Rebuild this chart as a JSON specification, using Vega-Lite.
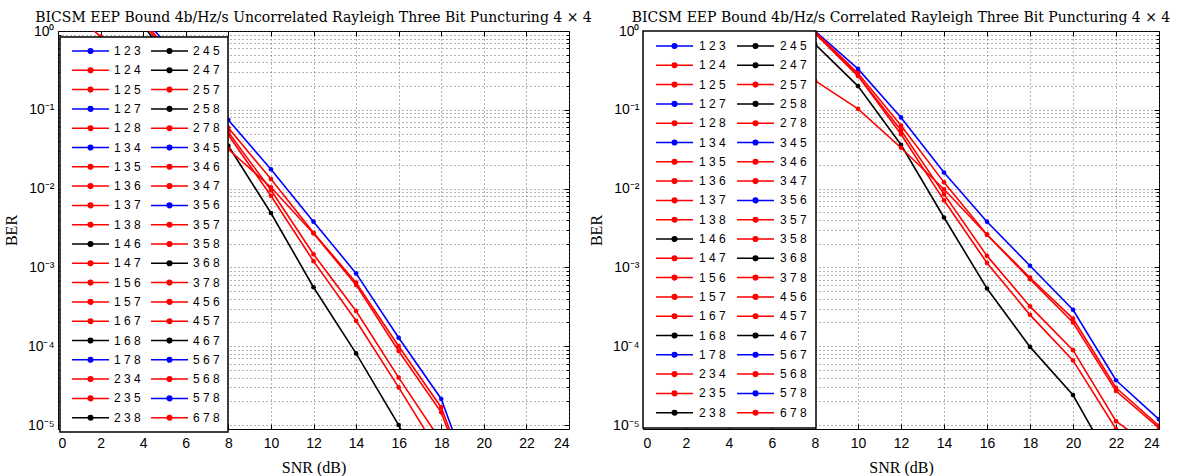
{
  "$schema": "https://vega.github.io/schema/vega-lite/v6.json",
  "background": "white",
  "padding": {"left": 2, "top": 10, "right": 10, "bottom": 2},
  "bounds": "flush",
  "spacing": 74,
  "config": {
    "view": {"stroke": "black", "strokeWidth": 1},
    "axis": {
      "labelFont": "Liberation Sans", "labelFontSize": 14, "labelColor": "black",
      "titleFont": "Liberation Serif", "titleFontSize": 16, "titleFontWeight": "normal", "titleColor": "black",
      "domain": false, "tickColor": "black", "labelOverlap": false, "labelBound": false,
      "gridColor": "#444", "gridDash": [1, 3], "gridWidth": 1, "gridOpacity": 0.8
    },
    "title": {"font": "DejaVu Serif", "fontSize": 14, "fontWeight": "normal", "color": "black", "anchor": "middle", "offset": -1},
    "legend": {"strokeWidth": 1.5}
  },
  "datasets": {
    "unc": [
      {"s": "1 2 3", "snr": 0, "ber": 20}, {"s": "1 2 3", "snr": 2, "ber": 6}, {"s": "1 2 3", "snr": 4, "ber": 1.5}, {"s": "1 2 3", "snr": 6, "ber": 0.35}, {"s": "1 2 3", "snr": 8, "ber": 0.074}, {"s": "1 2 3", "snr": 10, "ber": 0.0176}, {"s": "1 2 3", "snr": 12, "ber": 0.0038}, {"s": "1 2 3", "snr": 14, "ber": 0.00084}, {"s": "1 2 3", "snr": 16, "ber": 0.000128}, {"s": "1 2 3", "snr": 18, "ber": 0.0000214}, {"s": "1 2 3", "snr": 20, "ber": 0.0000007},
      {"s": "2 3 8", "snr": 0, "ber": 15}, {"s": "2 3 8", "snr": 2, "ber": 4}, {"s": "2 3 8", "snr": 4, "ber": 1.2}, {"s": "2 3 8", "snr": 6, "ber": 0.2}, {"s": "2 3 8", "snr": 8, "ber": 0.035}, {"s": "2 3 8", "snr": 10, "ber": 0.0049}, {"s": "2 3 8", "snr": 12, "ber": 0.00056}, {"s": "2 3 8", "snr": 14, "ber": 0.000081}, {"s": "2 3 8", "snr": 16, "ber": 0.00001}, {"s": "2 3 8", "snr": 18, "ber": 0.0000008},
      {"s": "1 3 5", "snr": 0, "ber": 18}, {"s": "1 3 5", "snr": 2, "ber": 5}, {"s": "1 3 5", "snr": 4, "ber": 1.4}, {"s": "1 3 5", "snr": 6, "ber": 0.28}, {"s": "1 3 5", "snr": 8, "ber": 0.059}, {"s": "1 3 5", "snr": 10, "ber": 0.0132}, {"s": "1 3 5", "snr": 12, "ber": 0.00275}, {"s": "1 3 5", "snr": 14, "ber": 0.00064}, {"s": "1 3 5", "snr": 16, "ber": 0.0001}, {"s": "1 3 5", "snr": 18, "ber": 0.0000167}, {"s": "1 3 5", "snr": 20, "ber": 0.0000006},
      {"s": "1 2 4", "snr": 0, "ber": 2.5}, {"s": "1 2 4", "snr": 2, "ber": 0.85}, {"s": "1 2 4", "snr": 4, "ber": 0.3}, {"s": "1 2 4", "snr": 6, "ber": 0.1}, {"s": "1 2 4", "snr": 8, "ber": 0.0316}, {"s": "1 2 4", "snr": 10, "ber": 0.0104}, {"s": "1 2 4", "snr": 12, "ber": 0.0027}, {"s": "1 2 4", "snr": 14, "ber": 0.0006}, {"s": "1 2 4", "snr": 16, "ber": 0.000087}, {"s": "1 2 4", "snr": 18, "ber": 0.0000145}, {"s": "1 2 4", "snr": 20, "ber": 0.0000005},
      {"s": "1 3 6", "snr": 0, "ber": 16}, {"s": "1 3 6", "snr": 2, "ber": 4.5}, {"s": "1 3 6", "snr": 4, "ber": 1.3}, {"s": "1 3 6", "snr": 6, "ber": 0.25}, {"s": "1 3 6", "snr": 8, "ber": 0.052}, {"s": "1 3 6", "snr": 10, "ber": 0.0096}, {"s": "1 3 6", "snr": 12, "ber": 0.00147}, {"s": "1 3 6", "snr": 14, "ber": 0.00028}, {"s": "1 3 6", "snr": 16, "ber": 0.00004}, {"s": "1 3 6", "snr": 18, "ber": 0.0000062}, {"s": "1 3 6", "snr": 20, "ber": 0.0000002},
      {"s": "1 3 7", "snr": 0, "ber": 16}, {"s": "1 3 7", "snr": 2, "ber": 4.5}, {"s": "1 3 7", "snr": 4, "ber": 1.3}, {"s": "1 3 7", "snr": 6, "ber": 0.24}, {"s": "1 3 7", "snr": 8, "ber": 0.048}, {"s": "1 3 7", "snr": 10, "ber": 0.0081}, {"s": "1 3 7", "snr": 12, "ber": 0.0012}, {"s": "1 3 7", "snr": 14, "ber": 0.00021}, {"s": "1 3 7", "snr": 16, "ber": 0.00003}, {"s": "1 3 7", "snr": 18, "ber": 0.000004}, {"s": "1 3 7", "snr": 20, "ber": 0.0000001}
    ],
    "cor": [
      {"s": "1 2 3", "snr": 0, "ber": 60}, {"s": "1 2 3", "snr": 2, "ber": 20}, {"s": "1 2 3", "snr": 4, "ber": 6}, {"s": "1 2 3", "snr": 6, "ber": 2.5}, {"s": "1 2 3", "snr": 8, "ber": 1.0}, {"s": "1 2 3", "snr": 10, "ber": 0.33}, {"s": "1 2 3", "snr": 12, "ber": 0.08}, {"s": "1 2 3", "snr": 14, "ber": 0.016}, {"s": "1 2 3", "snr": 16, "ber": 0.0038}, {"s": "1 2 3", "snr": 18, "ber": 0.00105}, {"s": "1 2 3", "snr": 20, "ber": 0.00029}, {"s": "1 2 3", "snr": 22, "ber": 0.000037}, {"s": "1 2 3", "snr": 24, "ber": 0.0000118},
      {"s": "2 3 8", "snr": 0, "ber": 30}, {"s": "2 3 8", "snr": 2, "ber": 10}, {"s": "2 3 8", "snr": 4, "ber": 4}, {"s": "2 3 8", "snr": 6, "ber": 1.8}, {"s": "2 3 8", "snr": 8, "ber": 0.68}, {"s": "2 3 8", "snr": 10, "ber": 0.2}, {"s": "2 3 8", "snr": 12, "ber": 0.036}, {"s": "2 3 8", "snr": 14, "ber": 0.0043}, {"s": "2 3 8", "snr": 16, "ber": 0.00054}, {"s": "2 3 8", "snr": 18, "ber": 0.000098}, {"s": "2 3 8", "snr": 20, "ber": 0.000024}, {"s": "2 3 8", "snr": 22, "ber": 0.0000026},
      {"s": "1 3 5", "snr": 0, "ber": 50}, {"s": "1 3 5", "snr": 2, "ber": 15}, {"s": "1 3 5", "snr": 4, "ber": 5}, {"s": "1 3 5", "snr": 6, "ber": 2.2}, {"s": "1 3 5", "snr": 8, "ber": 0.98}, {"s": "1 3 5", "snr": 10, "ber": 0.29}, {"s": "1 3 5", "snr": 12, "ber": 0.063}, {"s": "1 3 5", "snr": 14, "ber": 0.012}, {"s": "1 3 5", "snr": 16, "ber": 0.0026}, {"s": "1 3 5", "snr": 18, "ber": 0.00074}, {"s": "1 3 5", "snr": 20, "ber": 0.000224}, {"s": "1 3 5", "snr": 22, "ber": 0.0000297}, {"s": "1 3 5", "snr": 24, "ber": 0.0000098},
      {"s": "1 3 6", "snr": 0, "ber": 50}, {"s": "1 3 6", "snr": 2, "ber": 15}, {"s": "1 3 6", "snr": 4, "ber": 5}, {"s": "1 3 6", "snr": 6, "ber": 2.1}, {"s": "1 3 6", "snr": 8, "ber": 0.95}, {"s": "1 3 6", "snr": 10, "ber": 0.27}, {"s": "1 3 6", "snr": 12, "ber": 0.055}, {"s": "1 3 6", "snr": 14, "ber": 0.0085}, {"s": "1 3 6", "snr": 16, "ber": 0.0014}, {"s": "1 3 6", "snr": 18, "ber": 0.00032}, {"s": "1 3 6", "snr": 20, "ber": 0.000089}, {"s": "1 3 6", "snr": 22, "ber": 0.0000112}, {"s": "1 3 6", "snr": 24, "ber": 0.0000045},
      {"s": "1 3 7", "snr": 0, "ber": 50}, {"s": "1 3 7", "snr": 2, "ber": 15}, {"s": "1 3 7", "snr": 4, "ber": 5}, {"s": "1 3 7", "snr": 6, "ber": 2.1}, {"s": "1 3 7", "snr": 8, "ber": 0.93}, {"s": "1 3 7", "snr": 10, "ber": 0.27}, {"s": "1 3 7", "snr": 12, "ber": 0.049}, {"s": "1 3 7", "snr": 14, "ber": 0.0071}, {"s": "1 3 7", "snr": 16, "ber": 0.00114}, {"s": "1 3 7", "snr": 18, "ber": 0.00025}, {"s": "1 3 7", "snr": 20, "ber": 0.000066}, {"s": "1 3 7", "snr": 22, "ber": 0.0000089}, {"s": "1 3 7", "snr": 24, "ber": 0.000001},
      {"s": "1 2 4", "snr": 0, "ber": 5}, {"s": "1 2 4", "snr": 2, "ber": 2.5}, {"s": "1 2 4", "snr": 4, "ber": 1.0}, {"s": "1 2 4", "snr": 6, "ber": 0.5}, {"s": "1 2 4", "snr": 8, "ber": 0.235}, {"s": "1 2 4", "snr": 10, "ber": 0.103}, {"s": "1 2 4", "snr": 12, "ber": 0.033}, {"s": "1 2 4", "snr": 14, "ber": 0.0098}, {"s": "1 2 4", "snr": 16, "ber": 0.0026}, {"s": "1 2 4", "snr": 18, "ber": 0.00071}, {"s": "1 2 4", "snr": 20, "ber": 0.0002}, {"s": "1 2 4", "snr": 22, "ber": 0.000027}, {"s": "1 2 4", "snr": 24, "ber": 0.0000092}
    ]
  },
  "resolve": {"scale": {"color": "independent"}, "legend": {"color": "independent"}},
  "hconcat": [
    {
      "width": 511, "height": 398,
      "title": {"text": "BICSM EEP Bound 4b/Hz/s Uncorrelated Rayleigh Three Bit Puncturing 4 × 4"},
      "data": {"name": "unc"},
      "resolve": {"axis": {"x": "independent", "y": "independent"}},
      "layer": [
        {
          "mark": {"type": "line", "strokeWidth": 1.6, "clip": true},
          "encoding": {
            "x": {"field": "snr", "type": "quantitative", "scale": {"domain": [0, 24], "nice": false},
              "axis": {"title": "SNR (dB)", "values": [0, 2, 4, 6, 8, 10, 12, 14, 16, 18, 20, 22, 24], "tickSize": -5, "labelPadding": 12, "titlePadding": 9, "grid": true}},
            "y": {"field": "ber", "type": "quantitative", "scale": {"type": "log", "domain": [0.0000089, 1], "nice": false},
              "axis": {"title": "BER", "titlePadding": 8, "labelPadding": 9, "grid": true,
                "values": [0.00001, 0.00002, 0.00003, 0.00004, 0.00005, 0.00006, 0.00007, 0.00008, 0.00009, 0.0001, 0.0002, 0.0003, 0.0004, 0.0005, 0.0006, 0.0007, 0.0008, 0.0009, 0.001, 0.002, 0.003, 0.004, 0.005, 0.006, 0.007, 0.008, 0.009, 0.01, 0.02, 0.03, 0.04, 0.05, 0.06, 0.07, 0.08, 0.09, 0.1, 0.2, 0.3, 0.4, 0.5, 0.6, 0.7, 0.8, 0.9, 1],
                "tickSize": {"condition": {"test": "indexof([1, 0.1, 0.01, 0.001, 0.0001, 0.00001], datum.value) >= 0", "value": -5}, "value": -3},
                "labelExpr": "datum.value === 1 ? '10⁰' : datum.value === 0.1 ? '10⁻¹' : datum.value === 0.01 ? '10⁻²' : datum.value === 0.001 ? '10⁻³' : datum.value === 0.0001 ? '10⁻⁴' : datum.value === 0.00001 ? '10⁻⁵' : ''"}},
            "color": {"field": "s", "type": "nominal",
              "scale": {
                "domain": ["1 2 3","1 2 4","1 2 5","1 2 7","1 2 8","1 3 4","1 3 5","1 3 6","1 3 7","1 3 8","1 4 6","1 4 7","1 5 6","1 5 7","1 6 7","1 6 8","1 7 8","2 3 4","2 3 5","2 3 8","2 4 5","2 4 7","2 5 7","2 5 8","2 7 8","3 4 5","3 4 6","3 4 7","3 5 6","3 5 7","3 5 8","3 6 8","3 7 8","4 5 6","4 5 7","4 6 7","5 6 7","5 6 8","5 7 8","6 7 8"],
                "range": ["#0000ff","#ff0000","#ff0000","#0000ff","#ff0000","#0000ff","#ff0000","#ff0000","#ff0000","#ff0000","#000000","#ff0000","#ff0000","#ff0000","#ff0000","#000000","#0000ff","#ff0000","#ff0000","#000000","#000000","#000000","#ff0000","#000000","#ff0000","#0000ff","#ff0000","#ff0000","#0000ff","#ff0000","#ff0000","#000000","#ff0000","#ff0000","#ff0000","#000000","#0000ff","#ff0000","#0000ff","#ff0000"]
              },
              "legend": {"orient": "none", "legendX": 2, "legendY": 6, "columns": 2, "title": null, "symbolLimit": 60,
                "fillColor": "white", "strokeColor": "black", "padding": 8,
                "symbolType": "M-0.5,0L8.75,0M3.55,0A0.575,0.575,0,1,1,4.7,0A0.575,0.575,0,1,1,3.55,0M3.85,0A0.275,0.275,0,1,1,4.4,0A0.275,0.275,0,1,1,3.85,0",
                "symbolSize": 64, "symbolStrokeWidth": 1.5, "symbolOpacity": 1,
                "labelFont": "Liberation Sans", "labelFontSize": 12, "labelColor": "black", "labelOffset": 34,
                "rowPadding": 7.3, "columnPadding": 6}
            }
          }
        },
        {
          "mark": {"type": "point", "filled": true, "size": 22, "opacity": 1, "clip": true},
          "encoding": {
            "x": {"field": "snr", "type": "quantitative",
              "axis": {"orient": "top", "title": null, "labels": false, "grid": false, "values": [0, 2, 4, 6, 8, 10, 12, 14, 16, 18, 20, 22, 24], "tickSize": -5}},
            "y": {"field": "ber", "type": "quantitative",
              "axis": {"orient": "right", "title": null, "labels": false, "grid": false,
                "values": [0.00001, 0.00002, 0.00003, 0.00004, 0.00005, 0.00006, 0.00007, 0.00008, 0.00009, 0.0001, 0.0002, 0.0003, 0.0004, 0.0005, 0.0006, 0.0007, 0.0008, 0.0009, 0.001, 0.002, 0.003, 0.004, 0.005, 0.006, 0.007, 0.008, 0.009, 0.01, 0.02, 0.03, 0.04, 0.05, 0.06, 0.07, 0.08, 0.09, 0.1, 0.2, 0.3, 0.4, 0.5, 0.6, 0.7, 0.8, 0.9, 1],
                "tickSize": {"condition": {"test": "indexof([1, 0.1, 0.01, 0.001, 0.0001, 0.00001], datum.value) >= 0", "value": -5}, "value": -3}}},
            "color": {"field": "s", "type": "nominal"}
          }
        }
      ]
    },
    {
      "width": 516, "height": 398,
      "title": {"text": "BICSM EEP Bound 4b/Hz/s Correlated Rayleigh Three Bit Puncturing 4 × 4"},
      "data": {"name": "cor"},
      "resolve": {"axis": {"x": "independent", "y": "independent"}},
      "layer": [
        {
          "mark": {"type": "line", "strokeWidth": 1.6, "clip": true},
          "encoding": {
            "x": {"field": "snr", "type": "quantitative", "scale": {"domain": [0, 24], "nice": false},
              "axis": {"title": "SNR (dB)", "values": [0, 2, 4, 6, 8, 10, 12, 14, 16, 18, 20, 22, 24], "tickSize": -5, "labelPadding": 12, "titlePadding": 9, "grid": true}},
            "y": {"field": "ber", "type": "quantitative", "scale": {"type": "log", "domain": [0.0000089, 1], "nice": false},
              "axis": {"title": "BER", "titlePadding": 8, "labelPadding": 9, "grid": true,
                "values": [0.00001, 0.00002, 0.00003, 0.00004, 0.00005, 0.00006, 0.00007, 0.00008, 0.00009, 0.0001, 0.0002, 0.0003, 0.0004, 0.0005, 0.0006, 0.0007, 0.0008, 0.0009, 0.001, 0.002, 0.003, 0.004, 0.005, 0.006, 0.007, 0.008, 0.009, 0.01, 0.02, 0.03, 0.04, 0.05, 0.06, 0.07, 0.08, 0.09, 0.1, 0.2, 0.3, 0.4, 0.5, 0.6, 0.7, 0.8, 0.9, 1],
                "tickSize": {"condition": {"test": "indexof([1, 0.1, 0.01, 0.001, 0.0001, 0.00001], datum.value) >= 0", "value": -5}, "value": -3},
                "labelExpr": "datum.value === 1 ? '10⁰' : datum.value === 0.1 ? '10⁻¹' : datum.value === 0.01 ? '10⁻²' : datum.value === 0.001 ? '10⁻³' : datum.value === 0.0001 ? '10⁻⁴' : datum.value === 0.00001 ? '10⁻⁵' : ''"}},
            "color": {"field": "s", "type": "nominal",
              "scale": {
                "domain": ["1 2 3","1 2 4","1 2 5","1 2 7","1 2 8","1 3 4","1 3 5","1 3 6","1 3 7","1 3 8","1 4 6","1 4 7","1 5 6","1 5 7","1 6 7","1 6 8","1 7 8","2 3 4","2 3 5","2 3 8","2 4 5","2 4 7","2 5 7","2 5 8","2 7 8","3 4 5","3 4 6","3 4 7","3 5 6","3 5 7","3 5 8","3 6 8","3 7 8","4 5 6","4 5 7","4 6 7","5 6 7","5 6 8","5 7 8","6 7 8"],
                "range": ["#0000ff","#ff0000","#ff0000","#0000ff","#ff0000","#0000ff","#ff0000","#ff0000","#ff0000","#ff0000","#000000","#ff0000","#ff0000","#ff0000","#ff0000","#000000","#0000ff","#ff0000","#ff0000","#000000","#000000","#000000","#ff0000","#000000","#ff0000","#0000ff","#ff0000","#ff0000","#0000ff","#ff0000","#ff0000","#000000","#ff0000","#ff0000","#ff0000","#000000","#0000ff","#ff0000","#0000ff","#ff0000"]
              },
              "legend": {"orient": "none", "legendX": 0, "legendY": 0, "columns": 2, "title": null, "symbolLimit": 60,
                "fillColor": "white", "strokeColor": "black", "padding": 9,
                "symbolType": "M-0.5,0L8.75,0M3.55,0A0.575,0.575,0,1,1,4.7,0A0.575,0.575,0,1,1,3.55,0M3.85,0A0.275,0.275,0,1,1,4.4,0A0.275,0.275,0,1,1,3.85,0",
                "symbolSize": 64, "symbolStrokeWidth": 1.5, "symbolOpacity": 1,
                "labelFont": "Liberation Sans", "labelFontSize": 12, "labelColor": "black", "labelOffset": 35,
                "rowPadding": 7.3, "columnPadding": 7}
            }
          }
        },
        {
          "mark": {"type": "point", "filled": true, "size": 22, "opacity": 1, "clip": true},
          "encoding": {
            "x": {"field": "snr", "type": "quantitative",
              "axis": {"orient": "top", "title": null, "labels": false, "grid": false, "values": [0, 2, 4, 6, 8, 10, 12, 14, 16, 18, 20, 22, 24], "tickSize": -5}},
            "y": {"field": "ber", "type": "quantitative",
              "axis": {"orient": "right", "title": null, "labels": false, "grid": false,
                "values": [0.00001, 0.00002, 0.00003, 0.00004, 0.00005, 0.00006, 0.00007, 0.00008, 0.00009, 0.0001, 0.0002, 0.0003, 0.0004, 0.0005, 0.0006, 0.0007, 0.0008, 0.0009, 0.001, 0.002, 0.003, 0.004, 0.005, 0.006, 0.007, 0.008, 0.009, 0.01, 0.02, 0.03, 0.04, 0.05, 0.06, 0.07, 0.08, 0.09, 0.1, 0.2, 0.3, 0.4, 0.5, 0.6, 0.7, 0.8, 0.9, 1],
                "tickSize": {"condition": {"test": "indexof([1, 0.1, 0.01, 0.001, 0.0001, 0.00001], datum.value) >= 0", "value": -5}, "value": -3}}},
            "color": {"field": "s", "type": "nominal"}
          }
        }
      ]
    }
  ]
}
